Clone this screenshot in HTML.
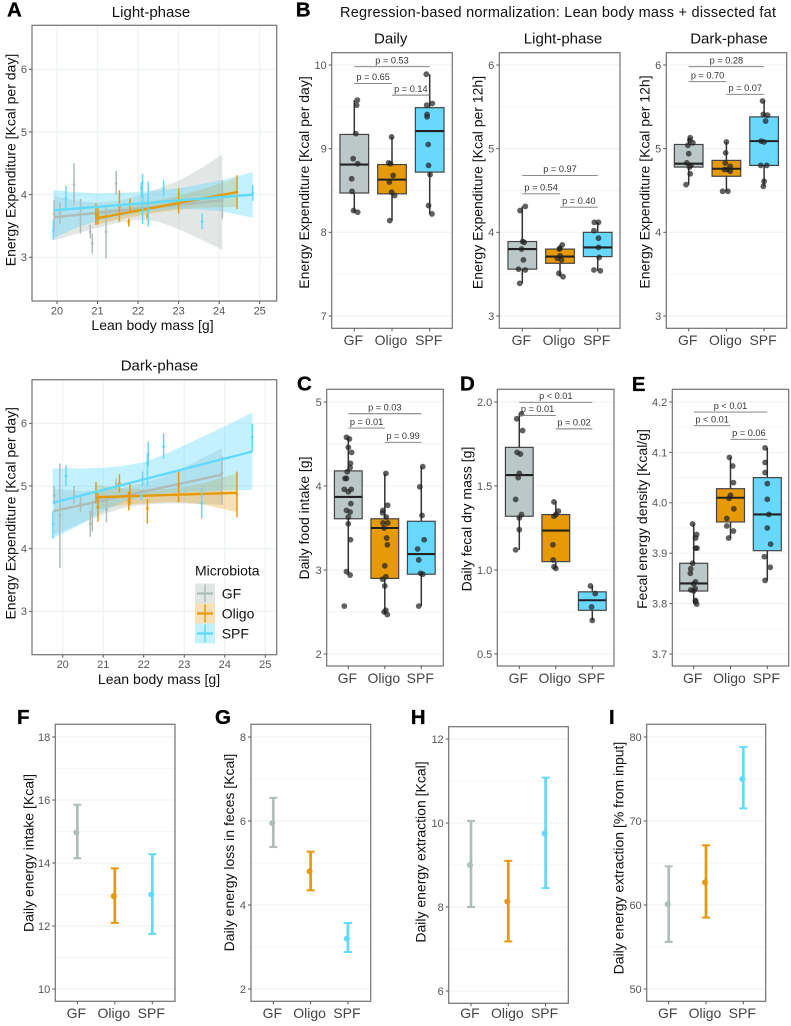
<!DOCTYPE html>
<html lang="en">
<head>
<meta charset="utf-8">
<title>Energy expenditure by microbiota</title>
<style>
html,body{margin:0;padding:0;background:#fff;}
svg{display:block;font-family:"Liberation Sans",Arial,sans-serif;}
</style>
</head>
<body>
<svg id="fig" xmlns="http://www.w3.org/2000/svg" width="791" height="1026" viewBox="0 0 791 1026">
  <rect x="0" y="0" width="791" height="1026" fill="#fff"/>
  <text x="340" y="17" font-size="14.5" textLength="436" fill="#111">Regression-based normalization: Lean body mass + dissected fat</text>
</svg>
<script>
const categories = ['GF','Oligo','SPF'];
const legendLabels = ['GF','Oligo','SPF'];

/* Panel A: light-phase scatter */
const massTicks = [20,21,22,23,24,25];
const eeTicks = [3,4,5,6];
const lightGfX=[19.93,20.07,20.42,20.58,20.82,20.87,21.21,21.46,24.08];
const lightGfY=[3.69,3.70,4.16,3.68,3.41,3.22,3.41,4.18,3.90];
const lightGfLo=[3.45,3.53,3.84,3.38,3.30,3.06,2.98,4.00,3.62];
const lightGfHi=[3.91,3.88,4.50,3.93,3.52,3.38,3.81,4.38,4.23];
const lightGfRibX=[19.93,20.5,21,21.5,22,22.5,23,23.5,24.08];
const lightGfRibHi=[3.98,3.90,3.87,3.90,3.98,4.10,4.22,4.40,4.64];
const lightGfRibLo=[3.27,3.38,3.47,3.55,3.60,3.57,3.45,3.30,3.12];
const lightGfLine=[3.64,3.91];
const lightOligoX=[20.96,21.01,21.54,21.80,21.77,22.23,23.00,24.44];
const lightOligoY=[3.69,3.66,3.81,3.85,3.56,3.66,3.90,4.04];
const lightOligoLo=[3.52,3.52,3.57,3.74,3.49,3.62,3.70,3.77];
const lightOligoHi=[3.86,3.81,4.07,3.94,3.62,3.70,4.10,4.31];
const lightOligoRibX=[20.96,21.5,22,22.5,23,23.5,24,24.44];
const lightOligoRibHi=[3.74,3.78,3.84,3.91,3.98,4.07,4.17,4.28];
const lightOligoRibLo=[3.52,3.60,3.66,3.72,3.76,3.79,3.80,3.80];
const lightOligoLine=[3.62,4.04];
const lightSpfX=[19.91,20.22,22.11,22.08,22.25,22.63,23.58,24.83];
const lightSpfY=[3.43,3.94,3.97,4.10,3.73,4.09,3.57,4.02];
const lightSpfLo=[3.28,3.78,3.53,3.95,3.49,3.97,3.45,3.90];
const lightSpfHi=[3.60,4.14,4.33,4.20,4.21,4.23,3.70,4.15];
const lightSpfRibX=[19.91,20.5,21,22,23,24,24.83];
const lightSpfRibHi=[4.07,4.04,4.02,4.04,4.10,4.22,4.36];
const lightSpfRibLo=[3.30,3.48,3.58,3.71,3.78,3.74,3.63];
const lightSpfLine=[3.75,4.00];

/* Panel A: dark-phase scatter */
const darkGfX=[19.79,19.93,20.28,20.44,20.68,20.73,21.08,21.32,23.93];
const darkGfY=[4.85,4.53,4.85,4.71,4.40,4.56,4.62,5.03,5.20];
const darkGfLo=[4.71,3.69,4.72,4.59,4.19,4.27,4.42,4.94,4.70];
const darkGfHi=[5.00,5.36,5.00,4.83,4.60,4.77,4.83,5.12,5.47];
const darkGfRibX=[19.78,20.5,21,21.5,22,22.5,23,23.93];
const darkGfRibHi=[4.95,4.92,4.93,4.97,5.05,5.15,5.30,5.60];
const darkGfRibLo=[4.22,4.42,4.55,4.65,4.70,4.72,4.72,4.70];
const darkGfLine=[4.60,5.18];
const darkOligoX=[20.82,20.87,21.40,21.66,21.63,22.09,22.86,24.30];
const darkOligoY=[4.89,4.66,5.04,4.87,4.76,4.64,5.00,4.87];
const darkOligoLo=[4.72,4.43,4.90,4.70,4.61,4.40,4.74,4.50];
const darkOligoHi=[5.06,4.88,5.19,5.04,4.91,4.79,5.24,5.23];
const darkOligoRibX=[20.82,21.5,22,22.5,23,23.5,24.3];
const darkOligoRibHi=[5.02,4.96,4.95,4.95,4.98,5.05,5.20];
const darkOligoRibLo=[4.62,4.70,4.72,4.74,4.74,4.70,4.58];
const darkOligoLine=[4.82,4.89];
const darkSpfX=[19.76,20.08,21.97,21.94,22.11,22.09,22.49,23.43,24.68];
const darkSpfY=[4.39,5.16,5.11,4.83,5.51,5.36,5.63,4.72,5.78];
const darkSpfLo=[4.16,5.00,5.00,4.77,5.31,4.99,5.43,4.48,5.55];
const darkSpfHi=[4.60,5.33,5.23,4.88,5.70,5.52,5.84,4.96,5.99];
const darkSpfRibX=[19.75,20.5,21,21.5,22,22.5,23,24,24.68];
const darkSpfRibHi=[5.28,5.28,5.29,5.32,5.38,5.50,5.65,5.95,6.17];
const darkSpfRibLo=[4.16,4.40,4.60,4.75,4.83,4.88,4.90,4.93,4.94];
const darkSpfLine=[4.73,5.55];

/* Panel B: Daily */
const dailyTicks=[7,8,9,10];
const dailyTickLabels=['7','8','9','10'];
const dailyQ1=[8.47,8.46,8.72];
const dailyMedian=[8.81,8.63,9.21];
const dailyQ3=[9.17,8.81,9.49];
const dailyWhiskLo=[8.24,8.14,8.22];
const dailyWhiskHi=[9.58,9.14,9.89];
const dailyGfPts=[9.58,9.52,9.18,8.88,8.82,8.64,8.49,8.26,8.24];
const dailyGfJit=[.08,.06,.04,-.03,.09,-.07,-.06,-.02,.09];
const dailyOligoPts=[9.14,8.83,8.82,8.68,8.60,8.48,8.44,8.14];
const dailyOligoJit=[-.01,-.09,-.04,.03,-.07,-.01,.07,-.06];
const dailySpfPts=[9.89,9.54,9.52,9.41,9.38,9.05,8.80,8.69,8.32,8.22];
const dailySpfJit=[-.09,.07,-.08,-.07,-.07,-.04,-.03,.01,-.03,.06];
const dailyPLabels=['p = 0.53','p = 0.65','p = 0.14'];
const dailyPLevels=[9.98,9.78,9.64];

/* Panel B: Light-phase */
const lightTicks=[3,4,5,6];
const lightTickLabels=['3','4','5','6'];
const lightQ1=[3.56,3.63,3.71];
const lightMedian=[3.80,3.71,3.82];
const lightQ3=[3.89,3.80,4.00];
const lightWhiskLo=[3.39,3.47,3.54];
const lightWhiskHi=[4.31,3.85,4.12];
const lightGfPts=[4.31,4.26,3.89,3.88,3.80,3.67,3.56,3.55,3.39];
const lightGfJit=[.08,-.06,.01,.05,-.02,.03,-.10,.08,-.07];
const lightOligoPts=[3.85,3.81,3.80,3.72,3.69,3.67,3.51,3.47];
const lightOligoJit=[.06,0,-.02,0,-.07,.04,-.03,.08];
const lightSpfPts=[4.12,4.12,4.02,3.93,3.82,3.70,3.55,3.54];
const lightSpfJit=[-.09,.02,-.10,.02,.02,.04,-.10,.07];
const lightPLabels=['p = 0.97','p = 0.54','p = 0.40'];
const lightPLevels=[4.68,4.46,4.30];

/* Panel B: Dark-phase */
const darkQ1=[4.78,4.67,4.80];
const darkMedian=[4.82,4.76,5.09];
const darkQ3=[5.05,4.86,5.38];
const darkWhiskLo=[4.57,4.49,4.55];
const darkWhiskHi=[5.13,5.08,5.57];
const darkGfPts=[5.13,5.10,5.07,5.04,4.94,4.83,4.80,4.78,4.70,4.57];
const darkGfJit=[.04,.03,.11,-.02,0,-.05,.06,.02,.04,-.07];
const darkOligoPts=[5.08,4.95,4.83,4.79,4.75,4.75,4.73,4.49,4.49];
const darkOligoJit=[0,-.02,-.03,.10,-.05,.04,.10,-.10,.04];
const darkSpfPts=[5.57,5.41,5.40,5.33,5.09,5.08,4.80,4.80,4.61,4.55];
const darkSpfJit=[-.04,-.02,.09,.04,-.08,0,-.09,.07,0,-.02];
const darkPLabels=['p = 0.28','p = 0.70','p = 0.07'];
const darkPLevels=[5.98,5.80,5.65];

/* Panel C: food intake */
const foodTicks=[2,3,4,5];
const foodTickLabels=['2','3','4','5'];
const foodQ1=[3.61,2.90,2.95];
const foodMedian=[3.87,3.50,3.19];
const foodQ3=[4.18,3.61,3.58];
const foodWhiskLo=[2.94,2.47,2.57];
const foodWhiskHi=[4.58,4.15,4.23];
const foodGfPts=[4.58,4.56,4.46,4.40,4.27,4.22,4.17,4.09,4.09,3.96,3.93,3.96,3.79,3.71,3.69,3.63,3.55,3.36,2.98,2.94,2.57];
const foodGfJit=[-.05,.03,0,.09,.06,.05,-.03,-.09,-.05,-.11,0,.08,.07,-.05,.05,0,0,.06,-.05,.05,-.11];
const foodOligoPts=[4.15,3.77,3.71,3.68,3.63,3.56,3.56,3.50,3.38,3.30,3.05,2.92,2.89,2.81,2.52,2.50,2.47];
const foodOligoJit=[.03,.08,-.05,-.06,.04,-.05,.08,-.02,.05,.07,0,.03,-.06,0,.03,-.02,.07];
const foodSpfPts=[4.23,3.99,3.65,3.36,3.25,3.12,2.96,2.95,2.57];
const foodSpfJit=[.04,-.04,.02,.08,-.10,-.07,-.02,.04,-.07];
const foodPLabels=['p = 0.03','p = 0.01','p = 0.99'];
const foodPLevels=[4.86,4.69,4.52];

/* Panel D: fecal dry mass */
const fecalTicks=[0.5,1,1.5,2];
const fecalTickLabels=['0.5','1.0','1.5','2.0'];
const fecalQ1=[1.32,1.05,0.76];
const fecalMedian=[1.565,1.235,0.82];
const fecalQ3=[1.73,1.33,0.87];
const fecalWhiskLo=[1.12,1.01,0.70];
const fecalWhiskHi=[1.93,1.405,0.905];
const fecalGfPts=[1.93,1.90,1.83,1.70,1.69,1.575,1.55,1.42,1.33,1.31,1.24,1.12];
const fecalGfJit=[.06,-.07,.09,-.06,.03,0,-.03,-.10,.06,0,0,-.10];
const fecalOligoPts=[1.405,1.35,1.33,1.32,1.15,1.06,1.02,1.01];
const fecalOligoJit=[-.05,.07,0,-.05,-.08,-.07,-.05,0];
const fecalSpfPts=[0.905,0.86,0.78,0.70];
const fecalSpfJit=[-.05,.08,-.02,0];
const fecalPLabels=['p < 0.01','p = 0.01','p = 0.02'];
const fecalPLevels=[1.998,1.92,1.84];

/* Panel E: fecal energy density */
const densityTicks=[3.7,3.8,3.9,4.0,4.1,4.2];
const densityTickLabels=['3.7','3.8','3.9','4.0','4.1','4.2'];
const densityQ1=[3.825,3.962,3.905];
const densityMedian=[3.84,4.01,3.977];
const densityQ3=[3.88,4.028,4.05];
const densityWhiskLo=[3.80,3.93,3.846];
const densityWhiskHi=[3.958,4.09,4.109];
const densityGfPts=[3.958,3.937,3.93,3.91,3.91,3.88,3.869,3.86,3.843,3.839,3.827,3.825,3.83,3.806,3.799,3.804];
const densityGfJit=[-.03,.08,.05,.05,.09,-.03,-.08,-.09,.05,0,-.08,0,.04,.05,.08,.05];
const densityOligoPts=[4.09,4.073,4.04,4.015,4.009,3.988,3.969,3.954,3.944,3.93];
const densityOligoJit=[-.03,.06,.08,0,-.04,.09,-.10,-.10,.08,-.05];
const densitySpfPts=[4.109,4.08,4.06,4.038,4.007,3.977,3.95,3.918,3.893,3.872,3.846];
const densitySpfJit=[-.06,-.06,-.06,0,0,.04,0,.09,-.08,.08,-.06];
const densityPLabels=['p < 0.01','p < 0.01','p = 0.06'];
const densityPLevels=[4.18,4.153,4.126];

/* Panels F-I: mean with interval */
const intakeTicks=[10,12,14,16,18];
const intakeMean=[14.97,12.95,13.0];
const intakeLo=[14.15,12.1,11.75];
const intakeHi=[15.85,13.83,14.28];
const lossTicks=[2,4,6,8];
const lossMean=[5.95,4.8,3.2];
const lossLo=[5.38,4.35,2.88];
const lossHi=[6.55,5.27,3.57];
const extractTicks=[6,8,10,12];
const extractMean=[9.0,8.13,9.75];
const extractLo=[8.0,7.18,8.45];
const extractHi=[10.05,9.1,11.08];
const percentTicks=[50,60,70,80];
const percentMean=[60.1,62.7,75.0];
const percentLo=[55.6,58.5,71.5];
const percentHi=[64.6,67.1,78.8];

const NS='http://www.w3.org/2000/svg';
const svg=document.getElementById('fig');
const lineCol=['#aebdba','#e69a0a','#62d9ff'];
const boxCol=['#bcc8c7','#e79a08','#68d8ff'];
const ribCol=['rgba(160,172,168,.30)','rgba(230,155,10,.30)','rgba(90,215,255,.36)'];
const GRID='#eef3f3',BORDER='#727272',TICK='#555';

function mk(tag,attrs,parent,text){
  const n=document.createElementNS(NS,tag);
  for(const k in attrs){n.setAttribute(k,attrs[k]);}
  if(text!==undefined){n.textContent=text;}
  (parent||svg).appendChild(n);
  return n;
}
function linear(a,b){
  return function(v){return a[1]+(v-a[0])*(b[1]-a[1])/(b[0]-a[0]);};
}
function panelFrame(key,p,ticks,labels){
  const g=mk('g',{});
  
  
  const y=linear(p.ya,p.yb);
  for(let i=0;i<ticks.length;i++){
    if(p.minor&&i<ticks.length-1){
      const my=y((ticks[i]+ticks[i+1])/2);
      const mg=mk('line',{x1:p.l,x2:p.r,y1:my,y2:my,stroke:GRID,'stroke-width':.7},g);
      
      
    }
    const gy=mk('line',{x1:p.l,x2:p.r,y1:y(ticks[i]),y2:y(ticks[i]),stroke:GRID,'stroke-width':1.2},g);
    
    
    const tm=mk('line',{x1:p.l-3,x2:p.l,y1:y(ticks[i]),y2:y(ticks[i]),stroke:TICK,'stroke-width':1},g);
    
    
    const tl=mk('text',{x:p.l-5,y:y(ticks[i])+3.9,'font-size':11,'text-anchor':'end',fill:TICK},g,labels[i]);
    
    
  }
  return {g:g,y:y};
}
function panelBorder(key,p,g){
  const b=mk('rect',{x:p.l,y:p.t,width:p.r-p.l,height:p.b-p.t,fill:'none',stroke:BORDER,'stroke-width':1.2},g);
  
  
}
function yTitle(key,txt,x,cy,g){
  const t=mk('text',{x:x,y:cy,'font-size':14,'text-anchor':'middle',fill:'#111',transform:'rotate(-90 '+x+' '+cy+')',dy:'.36em'},g,txt);
  
  
}
function catAxis(key,p,g){
  for(let i=0;i<categories.length;i++){
    const x=p.c0+i*p.step;
    const tm=mk('line',{x1:x,x2:x,y1:p.b,y2:p.b+3,stroke:TICK,'stroke-width':1},g);
    
    
    const tl=mk('text',{x:x-1,y:p.lab,'font-size':14,'text-anchor':'middle',fill:'#444'},g,categories[i]);
    
    
  }
}
function letter(txt,x,y){
  const t=mk('text',{x:x,y:y,'font-size':20.5,'font-weight':'bold',fill:'#000',stroke:'#000','stroke-width':.3},svg,txt);
  
  
}
function title(key,txt,cx,y){
  const t=mk('text',{x:cx,y:y,'font-size':15,'text-anchor':'middle',fill:'#111'},svg,txt);
  
  
}

function scatterPanel(key,p,series,yT,xT){
  const f=panelFrame(key,p,eeTicks,eeTicks.map(String));
  const g=f.g,y=f.y,x=linear(p.xa,p.xb);
  massTicks.forEach(function(t){
    const gx=mk('line',{x1:x(t),x2:x(t),y1:p.t,y2:p.b,stroke:GRID,'stroke-width':1.2},g);
    
    
  });
  series.forEach(function(s,i){
    let d='';
    s.ribX.forEach(function(v,k){d+=(k?'L':'M')+x(v).toFixed(1)+' '+y(s.ribHi[k]).toFixed(1);});
    for(let k=s.ribX.length-1;k>=0;k--){d+='L'+x(s.ribX[k]).toFixed(1)+' '+y(s.ribLo[k]).toFixed(1);}
    const rb=mk('path',{d:d+'Z',fill:ribCol[i]},g);
    
    
  });
  series.forEach(function(s,i){
    const n=s.ribX.length-1;
    const ln=mk('line',{x1:x(s.ribX[0]),x2:x(s.ribX[n]),y1:y(s.line[0]),y2:y(s.line[1]),stroke:lineCol[i],'stroke-width':2.4},g);
    
    
    s.x.forEach(function(v,k){
      const eb=mk('line',{x1:x(v),x2:x(v),y1:y(s.lo[k]),y2:y(s.hi[k]),stroke:lineCol[i],'stroke-width':1.5},g);
      
      
      const pt=mk('circle',{cx:x(v),cy:y(s.y[k]),r:1.4,fill:lineCol[i]},g);
      
      
    });
  });
  massTicks.forEach(function(t){
    const tm=mk('line',{x1:x(t),x2:x(t),y1:p.b,y2:p.b+3,stroke:TICK,'stroke-width':1},g);
    
    
    const tl=mk('text',{x:x(t),y:p.lab,'font-size':11,'text-anchor':'middle',fill:TICK},g,String(t));
    
    
  });
  panelBorder(key,p,g);
  yTitle(key,yT,10.7,p.ytc,g);
  const xl=mk('text',{x:p.xtc,y:p.xty,'font-size':14,'text-anchor':'middle',fill:'#111'},g,xT);
  
  
}

function boxPanel(key,p,ticks,labels,stats,pts,jit,pLab,pLev,yT,ytx,ytc){
  const f=panelFrame(key,p,ticks,labels);
  const g=f.g,y=f.y;
  const bw=p.step*.76;
  categories.forEach(function(c,i){
    const x=p.c0+i*p.step,nm=c.toLowerCase();
    const wh=mk('line',{x1:x,x2:x,y1:y(stats.lo[i]),y2:y(stats.hi[i]),stroke:'#333','stroke-width':1.5},g);
    
    
    const bx=mk('rect',{x:x-bw/2,width:bw,y:y(stats.q3[i]),height:y(stats.q1[i])-y(stats.q3[i]),fill:boxCol[i],stroke:'#444','stroke-width':1.2},g);
    
    
    const md=mk('line',{x1:x-bw/2,x2:x+bw/2,y1:y(stats.med[i]),y2:y(stats.med[i]),stroke:'#222','stroke-width':2.1},g);
    
    
    pts[i].forEach(function(v,k){
      const dot=mk('circle',{cx:x+jit[i][k]*p.step,cy:y(v),r:2.9,fill:'rgba(35,35,35,.72)'},g);
      
      
    });
  });
  const pairs=[[0,2],[0,1],[1,2]];
  pLab.forEach(function(t,i){
    const xa=p.c0+pairs[i][0]*p.step,xb=p.c0+pairs[i][1]*p.step,ly=y(pLev[i]);
    const br=mk('line',{x1:xa,x2:xb,y1:ly,y2:ly,stroke:'#777','stroke-width':.9},g);
    
    
    const tx=mk('text',{x:(xa+xb)/2,y:ly-3.2,'font-size':9.2,'text-anchor':'middle',fill:'#333'},g,t);
    
    
  });
  panelBorder(key,p,g);
  catAxis(key,p,g);
  yTitle(key,yT,ytx,ytc,g);
}

function rangePanel(key,p,ticks,mean,lo,hi,yT,ytx,ytc){
  const f=panelFrame(key,p,ticks,ticks.map(String));
  const g=f.g,y=f.y;
  categories.forEach(function(c,i){
    const x=p.c0+i*p.step,nm=c.toLowerCase();
    const st=mk('line',{x1:x,x2:x,y1:y(lo[i]),y2:y(hi[i]),stroke:lineCol[i],'stroke-width':2.7},g);
    
    
    const cl=mk('line',{x1:x-4,x2:x+4,y1:y(lo[i]),y2:y(lo[i]),stroke:lineCol[i],'stroke-width':2},g);
    
    
    const ch=mk('line',{x1:x-4,x2:x+4,y1:y(hi[i]),y2:y(hi[i]),stroke:lineCol[i],'stroke-width':2},g);
    
    
    const m=mk('circle',{cx:x-1,cy:y(mean[i]),r:3,fill:lineCol[i]},g);
    
    
  });
  panelBorder(key,p,g);
  catAxis(key,p,g);
  yTitle(key,yT,ytx,ytc,g);
}

/* Panel A */
letter('A',7,16.7);
title('light-scatter','Light-phase',151,17);
scatterPanel('light-scatter',
  {l:32,r:276.7,t:25.3,b:301,ya:[3,257.3],yb:[6,69.3],xa:[20,57],xb:[25,259.7],lab:314.5,ytc:160,xtc:152.5,xty:330},
  [{x:lightGfX,y:lightGfY,lo:lightGfLo,hi:lightGfHi,ribX:lightGfRibX,ribHi:lightGfRibHi,ribLo:lightGfRibLo,line:lightGfLine},
   {x:lightOligoX,y:lightOligoY,lo:lightOligoLo,hi:lightOligoHi,ribX:lightOligoRibX,ribHi:lightOligoRibHi,ribLo:lightOligoRibLo,line:lightOligoLine},
   {x:lightSpfX,y:lightSpfY,lo:lightSpfLo,hi:lightSpfHi,ribX:lightSpfRibX,ribHi:lightSpfRibHi,ribLo:lightSpfRibLo,line:lightSpfLine}],
  'Energy Expenditure [Kcal per day]','Lean body mass [g]');
title('dark-scatter','Dark-phase',159.5,370.5);
scatterPanel('dark-scatter',
  {l:32,r:276.7,t:379.7,b:654.7,ya:[3,611.3],yb:[6,423.3],xa:[20,62.7],xb:[25,265.3],lab:668,ytc:513.3,xtc:159,xty:684},
  [{x:darkGfX,y:darkGfY,lo:darkGfLo,hi:darkGfHi,ribX:darkGfRibX,ribHi:darkGfRibHi,ribLo:darkGfRibLo,line:darkGfLine},
   {x:darkOligoX,y:darkOligoY,lo:darkOligoLo,hi:darkOligoHi,ribX:darkOligoRibX,ribHi:darkOligoRibHi,ribLo:darkOligoRibLo,line:darkOligoLine},
   {x:darkSpfX,y:darkSpfY,lo:darkSpfLo,hi:darkSpfHi,ribX:darkSpfRibX,ribHi:darkSpfRibHi,ribLo:darkSpfRibLo,line:darkSpfLine}],
  'Energy Expenditure [Kcal per day]','Lean body mass [g]');

/* Legend */
const legendTitle=mk('text',{x:195,y:575.7,'font-size':14,fill:'#111'},svg,'Microbiota');


legendLabels.forEach(function(t,i){
  const ky=583.5+i*20;
  const key=mk('rect',{x:195,y:ky,width:20,height:20,fill:ribCol[i]},svg);
  
  
  const hl=mk('line',{x1:197,x2:213,y1:ky+10,y2:ky+10,stroke:lineCol[i],'stroke-width':2.2},svg);
  
  
  const vl=mk('line',{x1:205,x2:205,y1:ky+1,y2:ky+19,stroke:lineCol[i],'stroke-width':1.5},svg);
  
  
  const tx=mk('text',{x:221.7,y:ky+15,'font-size':14,fill:'#111'},svg,t);
  
  
});

/* Panel B */
letter('B',295.7,16.7);
title('daily-box','Daily',390.7,43.5);
title('light-box','Light-phase',563,43.5);
title('dark-box','Dark-phase',729,43.5);
const rowB={t:52.7,b:328.3,ya:[3,316],yb:[6,65],lab:345,minor:true};
boxPanel('daily-box',Object.assign({},rowB,{l:331.7,r:452.3,c0:354.3,step:37.7,ya:[7,316],yb:[10,65]}),
  dailyTicks,dailyTickLabels,{q1:dailyQ1,med:dailyMedian,q3:dailyQ3,lo:dailyWhiskLo,hi:dailyWhiskHi},
  [dailyGfPts,dailyOligoPts,dailySpfPts],[dailyGfJit,dailyOligoJit,dailySpfJit],dailyPLabels,dailyPLevels,
  'Energy Expenditure [Kcal per day]',304,182.5);
boxPanel('light-box',Object.assign({},rowB,{l:499.3,r:620,c0:522.3,step:37.7}),
  lightTicks,lightTickLabels,{q1:lightQ1,med:lightMedian,q3:lightQ3,lo:lightWhiskLo,hi:lightWhiskHi},
  [lightGfPts,lightOligoPts,lightSpfPts],[lightGfJit,lightOligoJit,lightSpfJit],lightPLabels,lightPLevels,
  'Energy Expenditure [Kcal per 12h]',477.7,182.5);
boxPanel('dark-box',Object.assign({},rowB,{l:666.3,r:786.7,c0:688.7,step:37.7}),
  lightTicks,lightTickLabels,{q1:darkQ1,med:darkMedian,q3:darkQ3,lo:darkWhiskLo,hi:darkWhiskHi},
  [darkGfPts,darkOligoPts,darkSpfPts],[darkGfJit,darkOligoJit,darkSpfJit],darkPLabels,darkPLevels,
  'Energy Expenditure [Kcal per 12h]',644.3,182);

/* Panels C-E */
letter('C',297,390.7);
letter('D',460,390.7);
letter('E',631.7,391);
const rowC={t:389.3,b:666,lab:683,minor:true};
boxPanel('food-box',Object.assign({},rowC,{l:326.7,r:443.3,c0:348.3,step:36.5,ya:[2,654],yb:[5,402]}),
  foodTicks,foodTickLabels,{q1:foodQ1,med:foodMedian,q3:foodQ3,lo:foodWhiskLo,hi:foodWhiskHi},
  [foodGfPts,foodOligoPts,foodSpfPts],[foodGfJit,foodOligoJit,foodSpfJit],foodPLabels,foodPLevels,
  'Daily food intake [g]',304,518);
boxPanel('fecal-box',Object.assign({},rowC,{l:497.3,r:614,c0:519.3,step:36.5,ya:[0.5,654],yb:[2,402]}),
  fecalTicks,fecalTickLabels,{q1:fecalQ1,med:fecalMedian,q3:fecalQ3,lo:fecalWhiskLo,hi:fecalWhiskHi},
  [fecalGfPts,fecalOligoPts,fecalSpfPts],[fecalGfJit,fecalOligoJit,fecalSpfJit],fecalPLabels,fecalPLevels,
  'Daily fecal dry mass [g]',466.7,519);
boxPanel('density-box',Object.assign({},rowC,{l:672.3,r:788.7,c0:693.7,step:36.8,ya:[3.7,654],yb:[4.2,402]}),
  densityTicks,densityTickLabels,{q1:densityQ1,med:densityMedian,q3:densityQ3,lo:densityWhiskLo,hi:densityWhiskHi},
  [densityGfPts,densityOligoPts,densitySpfPts],[densityGfJit,densityOligoJit,densitySpfJit],densityPLabels,densityPLevels,
  'Fecal energy density [Kcal/g]',642,519);

/* Panels F-I */
letter('F',17,724);
letter('G',215,724);
letter('H',410.7,724);
letter('I',609,724);
const rowF={t:724.3,b:1001.3,lab:1018,minor:true};
rangePanel('intake-range',Object.assign({},rowF,{l:55.3,r:175,c0:77.3,step:37.5,ya:[10,989],yb:[18,737]}),
  intakeTicks,intakeMean,intakeLo,intakeHi,'Daily energy intake [Kcal]',28.3,853);
rangePanel('loss-range',Object.assign({},rowF,{l:251,r:370.7,c0:273.3,step:37.3,ya:[2,989],yb:[8,737]}),
  lossTicks,lossMean,lossLo,lossHi,'Daily energy loss in feces [Kcal]',229,852.5);
rangePanel('extract-range',Object.assign({},rowF,{t:726.7,b:1003.3,l:448.7,r:568.3,c0:471,step:37.3,ya:[6,991],yb:[12,739]}),
  extractTicks,extractMean,extractLo,extractHi,'Daily energy extraction [Kcal]',420.7,852);
rangePanel('percent-range',Object.assign({},rowF,{l:646.7,r:765.7,c0:668.7,step:37.3,ya:[50,989],yb:[80,737]}),
  percentTicks,percentMean,percentLo,percentHi,'Daily energy extraction [% from input]',618.3,858);
</script>
</body>
</html>
